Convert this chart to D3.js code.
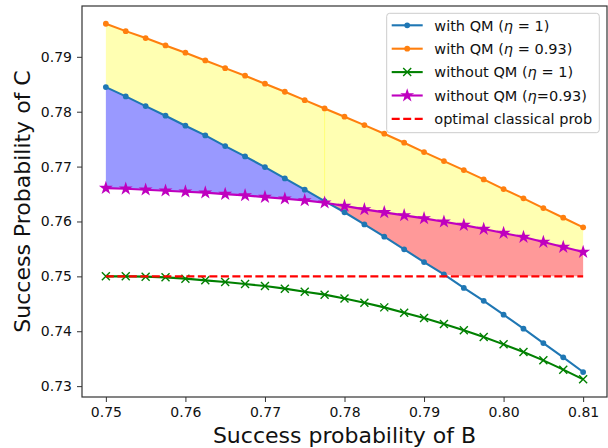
<!DOCTYPE html>
<html>
<head>
<meta charset="utf-8">
<script src="https://cdn.jsdelivr.net/npm/d3@7"></script>
<style>
  body { margin: 0; background: #fff; }
  text { font-family: "DejaVu Sans", sans-serif; }
</style>
</head>
<body>
<div id="chart"></div>
<script>
// values
var probB = [0.75, 0.7525, 0.755, 0.7575, 0.76, 0.7625, 0.765, 0.7675, 0.77, 0.7725, 0.775, 0.7775,
  0.78, 0.7825, 0.785, 0.7875, 0.79, 0.7925, 0.795, 0.7975, 0.80, 0.8025, 0.805, 0.8075, 0.81];

var withQM1 = [0.78448, 0.78279, 0.78102, 0.77927, 0.77745, 0.77568, 0.77373, 0.77186, 0.76991, 0.76785,
  0.76579, 0.76372, 0.76168, 0.75947, 0.75723, 0.75492, 0.75260, 0.75036, 0.74790, 0.74554,
  0.74302, 0.74047, 0.73785, 0.73525, 0.73257];

var withQM093 = [0.79603, 0.79468, 0.79341, 0.79208, 0.79075, 0.78934, 0.78794, 0.78656, 0.78510, 0.78364,
  0.78211, 0.78060, 0.77909, 0.77756, 0.77599, 0.77435, 0.77264, 0.77100, 0.76936, 0.76767,
  0.76590, 0.76421, 0.76244, 0.76069, 0.75893];

var withoutQM1 = [0.75000, 0.75000, 0.74995, 0.74982, 0.74958, 0.74927, 0.74897, 0.74860, 0.74824, 0.74776,
  0.74721, 0.74667, 0.74597, 0.74521, 0.74435, 0.74339, 0.74240, 0.74131, 0.74016, 0.73894,
  0.73761, 0.73621, 0.73470, 0.73300, 0.73124];

var withoutQM093 = [0.76608, 0.76597, 0.76579, 0.76561, 0.76543, 0.76525, 0.76499, 0.76475, 0.76444, 0.76415,
  0.76384, 0.76342, 0.76284, 0.76220, 0.76166, 0.76111, 0.76056, 0.75996, 0.75934, 0.75862,
  0.75789, 0.75716, 0.75625, 0.75534, 0.75443];

var classicalProb = 0.75;
var crossIndex = 11; // where the two eta=1 / eta=0.93 curves swap

var xTicks = [0.75, 0.76, 0.77, 0.78, 0.79, 0.80, 0.81];
var yTicks = [0.73, 0.74, 0.75, 0.76, 0.77, 0.78, 0.79];

var W = 608, H = 448;
var margin = { top: 6, right: 1, bottom: 51, left: 82 };
var width = W - margin.left - margin.right,
  height = H - margin.top - margin.bottom;

var svg = d3.select("#chart")
  .append("svg")
  .attr("width", W)
  .attr("height", H)
  .append("g")
  .attr("transform", "translate(" + margin.left + "," + margin.top + ")");

var x = d3.scaleLinear().domain([0.747, 0.813]).range([0, width]);
var y = d3.scaleLinear().domain([0.72802, 0.79926]).range([height, 0]);

var rows = probB.map(function(b, i) {
  return {
    b: b,
    q1: withQM1[i],
    q093: withQM093[i],
    n1: withoutQM1[i],
    n093: withoutQM093[i]
  };
});

// fills
var left = rows.slice(0, crossIndex + 1),
  right = rows.slice(crossIndex);

function band(top, bottom) {
  return d3.area()
    .x(function(d) { return x(d.b); })
    .y0(function(d) { return y(bottom(d)); })
    .y1(function(d) { return y(top(d)); });
}

var fills = svg.append("g");
fills.append("path").datum(left)
  .attr("d", band(function(d) { return d.q093; }, function(d) { return Math.max(d.q1, d.n093); }))
  .attr("fill", "yellow").attr("fill-opacity", 0.3);
fills.append("path").datum(right)
  .attr("d", band(function(d) { return d.q093; }, function(d) { return Math.max(d.q1, d.n093); }))
  .attr("fill", "yellow").attr("fill-opacity", 0.3);
// seam where the two yellow patches meet
fills.append("line")
  .attr("x1", x(probB[crossIndex])).attr("x2", x(probB[crossIndex]))
  .attr("y1", y(withQM093[crossIndex])).attr("y2", y(withQM1[crossIndex]))
  .attr("stroke", "yellow").attr("stroke-opacity", 0.35).attr("stroke-width", 1);
fills.append("path").datum(left)
  .attr("d", band(function(d) { return d.q1; }, function(d) { return d.n093; }))
  .attr("fill", "blue").attr("fill-opacity", 0.4);
fills.append("path").datum(right)
  .attr("d", band(function(d) { return d.n093; }, function(d) { return Math.max(d.q1, classicalProb); }))
  .attr("fill", "red").attr("fill-opacity", 0.4);

// axes
var xAxis = svg.append("g")
  .attr("transform", "translate(0," + height + ")")
  .call(d3.axisBottom(x).tickValues(xTicks).tickFormat(d3.format(".2f")).tickSize(5).tickPadding(5));
var yAxis = svg.append("g")
  .call(d3.axisLeft(y).tickValues(yTicks).tickFormat(d3.format(".2f")).tickSize(5).tickPadding(5));

[xAxis, yAxis].forEach(function(a) {
  a.select(".domain").remove();
  a.selectAll("line").attr("stroke", "#333").attr("stroke-width", 1);
  a.selectAll("text").attr("fill", "#111").style("font-size", "14px");
});

svg.append("rect")
  .attr("width", width).attr("height", height)
  .attr("fill", "none").attr("stroke", "#333").attr("stroke-width", 1.2);

svg.append("text")
  .attr("x", width / 2).attr("y", height + 46)
  .attr("text-anchor", "middle")
  .style("font-size", "22px").attr("fill", "#111")
  .text("Success probability of B");

svg.append("text")
  .attr("transform", "translate(" + (30 - margin.left) + "," + (height / 2) + ") rotate(-90)")
  .attr("text-anchor", "middle")
  .style("font-size", "22px").attr("fill", "#111")
  .text("Success Probability of C");

// lines
var series = [
  { key: "q1", color: "#1f77b4", marker: "dot" },
  { key: "q093", color: "#ff7f0e", marker: "dot" },
  { key: "n1", color: "#008000", marker: "x" },
  { key: "n093", color: "#bf00bf", marker: "star" }
];

var star = d3.symbol().type(d3.symbolStar).size(60);

function drawMarker(g, kind, color) {
  if (kind === "dot") {
    g.append("circle").attr("r", 2.9).attr("fill", color);
  } else if (kind === "x") {
    g.append("path").attr("d", "M-4,-4L4,4M-4,4L4,-4")
      .attr("stroke", color).attr("stroke-width", 1.4).attr("fill", "none");
  } else if (kind === "star") {
    g.append("path").attr("d", star).attr("fill", color);
  }
}

series.forEach(function(s) {
  var line = d3.line()
    .x(function(d) { return x(d.b); })
    .y(function(d) { return y(d[s.key]); });
  svg.append("path").datum(rows)
    .attr("d", line)
    .attr("fill", "none")
    .attr("stroke", s.color)
    .attr("stroke-width", 2.1);
  svg.append("g").selectAll("g")
    .data(rows)
    .enter()
    .append("g")
    .attr("transform", function(d) { return "translate(" + x(d.b) + "," + y(d[s.key]) + ")"; })
    .each(function() { drawMarker(d3.select(this), s.marker, s.color); });
});

svg.append("line")
  .attr("x1", x(probB[0])).attr("x2", x(probB[probB.length - 1]))
  .attr("y1", y(classicalProb)).attr("y2", y(classicalProb))
  .attr("stroke", "red").attr("stroke-width", 2.1)
  .attr("stroke-dasharray", "8,3.5");

// legend
var legendItems = [
  { name: "with QM (", eta: "η", rest: " = 1)", color: "#1f77b4", marker: "dot" },
  { name: "with QM (", eta: "η", rest: " = 0.93)", color: "#ff7f0e", marker: "dot" },
  { name: "without QM (", eta: "η", rest: " = 1)", color: "#008000", marker: "x" },
  { name: "without QM (", eta: "η", rest: "=0.93)", color: "#bf00bf", marker: "star" },
  { name: "optimal classical prob", eta: "", rest: "", color: "red", marker: "dash" }
];

var lg = svg.append("g").attr("transform", "translate(" + (386.7 - margin.left) + "," + (13.3 - margin.top) + ")");
lg.append("rect")
  .attr("width", 212.6).attr("height", 119.4)
  .attr("rx", 3)
  .attr("fill", "white").attr("fill-opacity", 0.8)
  .attr("stroke", "#cccccc").attr("stroke-width", 1);

legendItems.forEach(function(it, i) {
  var row = lg.append("g").attr("transform", "translate(0," + (12 + i * 23.4) + ")");
  var ln = row.append("line")
    .attr("x1", 5).attr("x2", 36).attr("y1", 0).attr("y2", 0)
    .attr("stroke", it.color).attr("stroke-width", 2.1);
  if (it.marker === "dash") {
    ln.attr("stroke-dasharray", "8,3.5");
  } else {
    var m = row.append("g").attr("transform", "translate(20.5,0)");
    drawMarker(m, it.marker, it.color);
  }
  var t = row.append("text")
    .attr("x", 47.6).attr("y", 5.2)
    .style("font-size", "14.5px").attr("fill", "#111");
  t.append("tspan").text(it.name);
  if (it.eta) {
    t.append("tspan").style("font-style", "italic").text(it.eta);
    t.append("tspan").text(it.rest);
  }
});
</script>
</body>
</html>
